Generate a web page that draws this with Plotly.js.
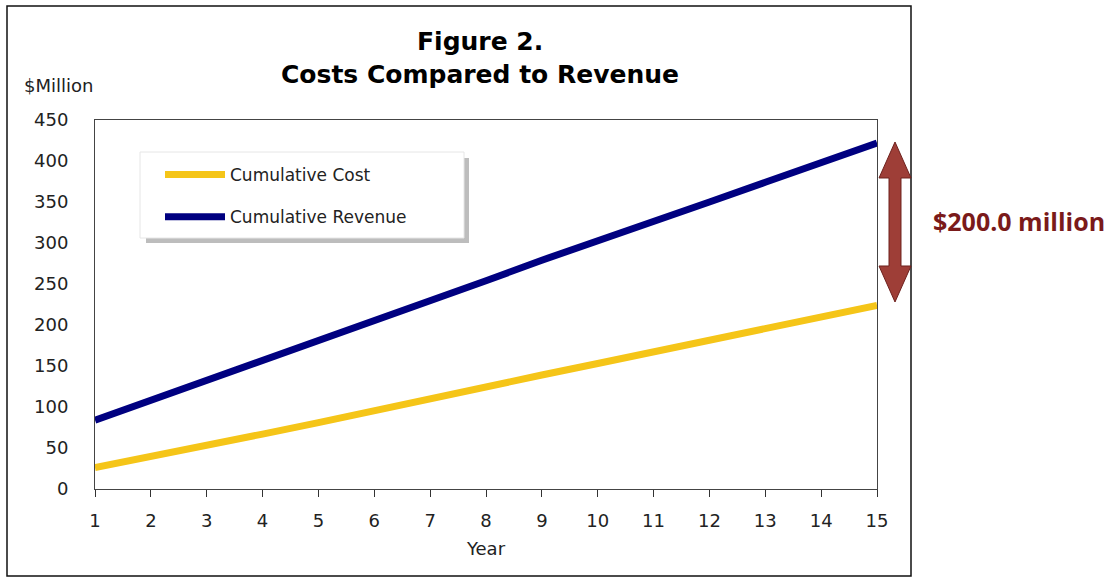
<!DOCTYPE html>
<html>
<head>
<meta charset="utf-8">
<script src="https://cdn.plot.ly/plotly-3.0.1.min.js"></script>
<style>html,body{margin:0;padding:0;background:#fff;}#chart{width:1117px;height:578px;}</style>
</head>
<body>
<div id="chart"></div>
<script>
const years = [1,2,3,4,5,6,7,8,9,10,11,12,13,14,15];
const cumulativeCost = [26,39,53,67,81,96,110,125,139,153,167,181,196,210,224];
const cumulativeRevenue = [84,108,132,156,180,205,229,254,279,302,325,350,374,398,422];
const yTicks = [0,50,100,150,200,250,300,350,400,450];
const titleLines = ['Figure 2.', 'Costs Compared to Revenue'];
const gapLabel = '$200.0 million';

const L=95, R=877, T=120, B=489;
const fx = px => (px - L) / (R - L);
const fy = py => (B - py) / (B - T);

const font = "Tahoma, 'DejaVu Sans', sans-serif";

const traces = [
  {x: years, y: cumulativeCost, name: 'Cumulative Cost', mode: 'lines', legendgroup: 'c',
   line: {color: '#F5C518', width: 7}},
  {x: years, y: cumulativeRevenue, name: 'Cumulative Revenue', mode: 'lines', legendgroup: 'r',
   line: {color: '#000080', width: 7}}
];

const ax = 895;
const pts = [
  [ax,142],[ax+16,178],[ax+6,178],[ax+6,266],[ax+16,266],[ax,302],
  [ax-16,266],[ax-6,266],[ax-6,178],[ax-16,178]
];
const arrowPath = 'M' + pts.map(p => fx(p[0]).toFixed(5) + ',' + fy(p[1]).toFixed(5)).join(' L') + ' Z';

const layout = {
  width: 1117, height: 578,
  margin: {l: L, r: 1117 - R, t: T, b: 578 - B},
  paper_bgcolor: '#fff', plot_bgcolor: '#fff',
  font: {family: font, size: 15, color: '#222'},
  showlegend: true,
  legend: {x: fx(160), y: fy(157), xanchor: 'left', yanchor: 'top', traceorder: 'grouped',
           bgcolor: 'rgba(0,0,0,0)', borderwidth: 0,
           font: {family: font, size: 17, color: '#222'}, itemwidth: 60, tracegroupgap: 17},
  xaxis: {range: [1, 15], tickvals: years, ticks: 'outside', ticklen: 7, tickcolor: '#333',
          showline: true, linecolor: '#444', linewidth: 1, mirror: true, showgrid: false, zeroline: false,
          ticklabelstandoff: 8,
          tickfont: {family: font, size: 18, color: '#222'},
          title: {text: 'Year', font: {family: font, size: 18, color: '#222'}, standoff: 12}},
  yaxis: {range: [0, 450], tickvals: yTicks, ticks: '', showline: true, linecolor: '#444', linewidth: 1,
          mirror: true, showgrid: false, zeroline: false, ticklabelstandoff: 22,
          tickfont: {family: font, size: 18, color: '#222'}},
  shapes: [
    {type: 'rect', xref: 'paper', yref: 'paper', x0: fx(7), x1: fx(911), y0: fy(576), y1: fy(6),
     line: {color: '#111', width: 1.5}, fillcolor: 'rgba(0,0,0,0)', layer: 'below'},
    {type: 'rect', xref: 'paper', yref: 'paper', x0: fx(146), x1: fx(469), y0: fy(243), y1: fy(158),
     line: {width: 0}, fillcolor: '#bdbdbd', layer: 'below'},
    {type: 'rect', xref: 'paper', yref: 'paper', x0: fx(140), x1: fx(464), y0: fy(238), y1: fy(152),
     line: {color: '#e6e6e6', width: 1}, fillcolor: '#fff', layer: 'below'},
    {type: 'path', xref: 'paper', yref: 'paper', path: arrowPath,
     fillcolor: '#9E3E37', line: {color: '#6E211D', width: 1}}
  ],
  annotations: [
    {text: titleLines[0], xref: 'paper', yref: 'paper', x: fx(480), y: fy(42), xanchor: 'center', yanchor: 'middle',
     showarrow: false, font: {family: font, size: 25, color: '#000', weight: 'bold'}},
    {text: titleLines[1], xref: 'paper', yref: 'paper', x: fx(480), y: fy(75), xanchor: 'center', yanchor: 'middle',
     showarrow: false, font: {family: font, size: 25, color: '#000', weight: 'bold'}},
    {text: '$Million', xref: 'paper', yref: 'paper', x: fx(22), y: fy(85), xanchor: 'left', yanchor: 'middle',
     showarrow: false, font: {family: font, size: 18, color: '#222'}},
    {text: gapLabel, xref: 'paper', yref: 'paper', x: fx(1019), y: fy(221), xanchor: 'center', yanchor: 'middle',
     showarrow: false, font: {family: "'Open Sans', sans-serif", size: 25, color: '#7A1A1A', weight: 'bold'}}
  ]
};

Plotly.newPlot('chart', traces, layout, {displayModeBar: false, staticPlot: true});
</script>
</body>
</html>
